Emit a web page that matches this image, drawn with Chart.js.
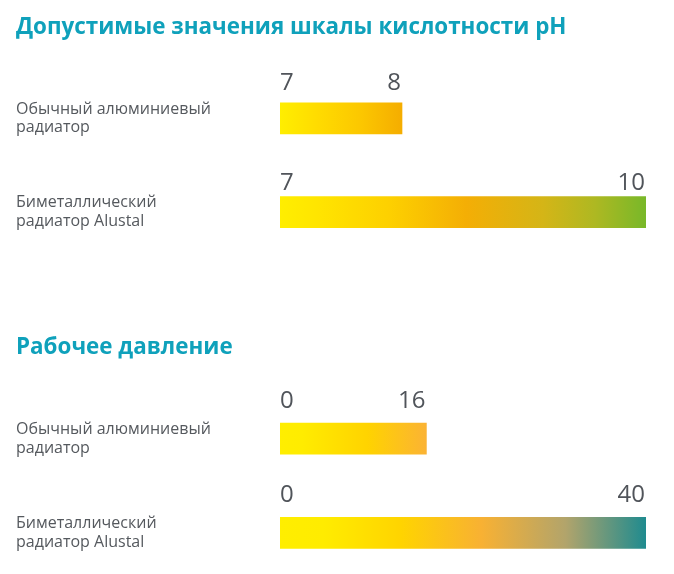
<!DOCTYPE html>
<html><head><meta charset="utf-8">
<script src="https://cdn.jsdelivr.net/npm/chart.js@4"></script>
<style>
html,body{margin:0;padding:0;background:#fff;overflow:hidden;width:674px;height:574px}
.box{position:absolute;left:0;width:674px}
#b1{top:0;height:260px}
#b2{top:320px;height:261px}
</style></head><body>
<div class="box" id="b1"><canvas id="c1"></canvas></div>
<div class="box" id="b2"><canvas id="c2"></canvas></div>
<script>
const categories = [["Обычный алюминиевый", "радиатор"], ["Биметаллический", "радиатор Alustal"]];
const phTitle = "Допустимые значения шкалы кислотности pH";
const phAxis = [7, 10];
const phMin = [7, 7];
const phMax = [8, 10];
const pressureTitle = "Рабочее давление";
const pressureAxis = [0, 40];
const pressureMin = [0, 0];
const pressureMax = [16, 40];

const phGradients = [
  [[0, '#ffee00'], [0.3, '#ffdc00'], [0.65, '#fcc800'], [1, '#f5ad00']],
  [[0, '#ffee00'], [0.1, '#ffe500'], [0.3, '#fdd000'], [0.51, '#f4ae05'], [0.72, '#d4b517'], [0.86, '#aeb822'], [1, '#78b829']]
];
const pressureGradients = [
  [[0, '#ffee00'], [0.15, '#ffec00'], [0.6, '#ffd300'], [1, '#fbb334']],
  [[0, '#ffee00'], [0.12, '#ffec00'], [0.33, '#ffd400'], [0.55, '#f8b133'], [0.78, '#b2a46b'], [1, '#1f8b8f']]
];

function gradFill(stops) {
  return function (ctx) {
    const chart = ctx.chart;
    if (!chart.chartArea || ctx.dataIndex === undefined) return stops[0][0][1];
    const xs = chart.scales.x;
    const v = ctx.dataset.data[ctx.dataIndex];
    const x0 = xs.getPixelForValue(v[0]), x1 = xs.getPixelForValue(v[1]);
    const g = chart.ctx.createLinearGradient(x0, 0, x1, 0);
    stops[ctx.dataIndex].forEach(s => g.addColorStop(s[0], s[1]));
    return g;
  };
}

const endLabels = {
  id: 'endLabels',
  afterDatasetsDraw(chart, args, opts) {
    const ctx = chart.ctx;
    const meta = chart.getDatasetMeta(0);
    const xs = chart.scales.x;
    ctx.save();
    ctx.font = opts.font;
    ctx.fillStyle = opts.color;
    ctx.textBaseline = 'alphabetic';
    meta.data.forEach((bar, i) => {
      const v = chart.data.datasets[0].data[i];
      const y = bar.y - bar.height / 2 - opts.gaps[i];
      ctx.textAlign = 'left';
      ctx.fillText(String(v[0]), xs.getPixelForValue(v[0]), y);
      ctx.textAlign = 'right';
      ctx.fillText(String(v[1]), xs.getPixelForValue(v[1]) - 1, y);
    });
    ctx.restore();
  }
};

function makeChart(id, title, axis, mins, maxs, stops, gaps) {
  const data = mins.map((m, i) => [m, maxs[i]]);
  return new Chart(document.getElementById(id), {
    type: 'bar',
    data: { labels: categories, datasets: [{ data, backgroundColor: gradFill(stops), barThickness: 31, borderWidth: 0 }] },
    options: {
      indexAxis: 'y', responsive: true, maintainAspectRatio: false, animation: false,
      layout: { padding: { left: 16, right: 28, top: 0, bottom: 1 } },
      scales: {
        x: { display: false, min: axis[0], max: axis[1] },
        y: {
          grid: { display: false }, border: { display: false },
          ticks: { crossAlign: 'far', color: '#55595e', font: { family: 'Open Sans', size: 16, lineHeight: 1.16 }, padding: 0 },
          afterFit(s) { s.width = 264; s.paddingTop = 0; s.paddingBottom = 0; }
        }
      },
      plugins: {
        legend: { display: false }, tooltip: { enabled: false },
        title: { display: true, text: title, align: 'start', color: '#0fa1bb',
          font: { family: 'Open Sans', weight: 'bold', size: 22.4, lineHeight: 1.2 }, padding: { top: 14, bottom: 30.7 } },
        endLabels: { font: '24px "Open Sans"', color: '#50545a', gaps }
      }
    },
    plugins: [endLabels]
  });
}

makeChart('c1', phTitle, phAxis, phMin, phMax, phGradients, [13, 7]);
makeChart('c2', pressureTitle, pressureAxis, pressureMin, pressureMax, pressureGradients, [15, 15]);
</script>
</body></html>
